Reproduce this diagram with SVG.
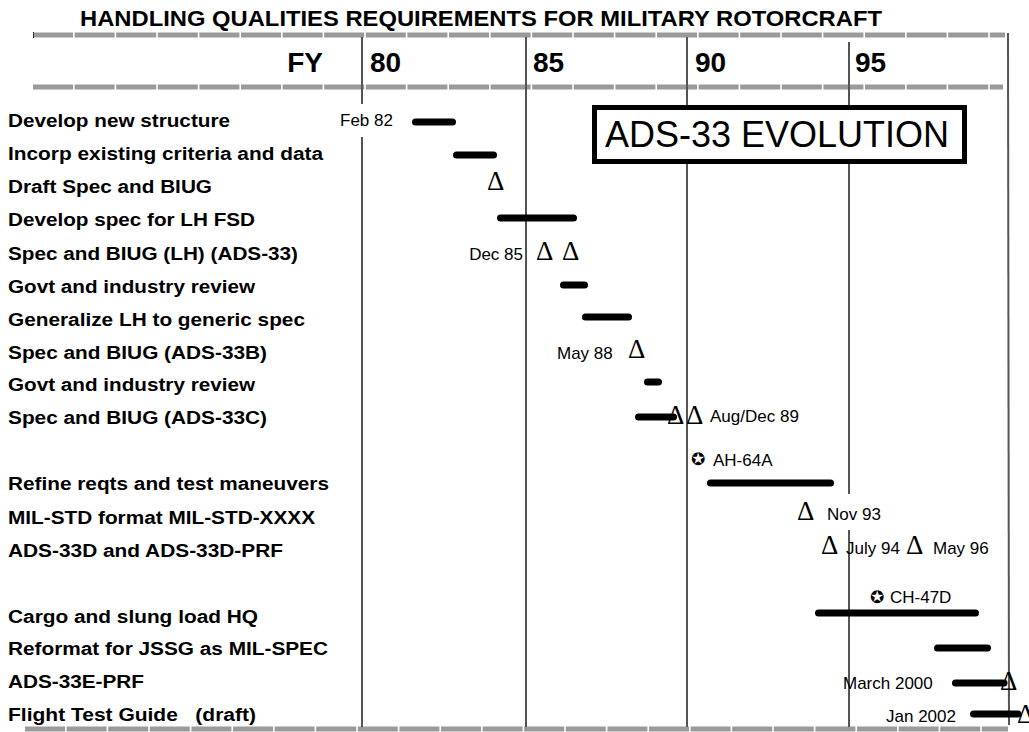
<svg xmlns="http://www.w3.org/2000/svg" width="1029" height="732" viewBox="0 0 1029 732">
<style>
.title{font-family:"Liberation Sans",Arial,sans-serif;font-weight:bold;font-size:22px;fill:#000}
.hdr{font-family:"Liberation Sans",Arial,sans-serif;font-weight:bold;font-size:28px;fill:#000}
.lbl{font-family:"Liberation Sans",Arial,sans-serif;font-weight:bold;font-size:18px;fill:#000}
.note{font-family:"Liberation Sans",Arial,sans-serif;font-size:17px;fill:#000}
.tri{font-family:"Liberation Serif","Times New Roman",serif;font-size:27px;fill:#000}
.ico{font-family:"DejaVu Sans",sans-serif;font-size:17px;fill:#000}
.band{stroke:#9a9a9a;stroke-width:5;stroke-dasharray:40 1.6;fill:none}
.vl{stroke:#555;stroke-width:2;fill:none}
.bar{stroke:#000;stroke-width:7;stroke-linecap:round;fill:none}
</style>
<rect width="1029" height="732" fill="#fff"/>
<text class="title" x="80" y="26" textLength="802" lengthAdjust="spacingAndGlyphs">HANDLING QUALITIES REQUIREMENTS FOR MILITARY ROTORCRAFT</text>
<g id="grid">
<line class="band" x1="33" y1="35" x2="1005" y2="35"/>
<line class="band" x1="33" y1="87" x2="1003" y2="87"/>
<line class="band" x1="25" y1="729" x2="1008" y2="729"/>
<line x1="33.5" y1="32" x2="33.5" y2="38" stroke="#333" stroke-width="1"/>
<line class="vl" x1="362" y1="37" x2="362" y2="727"/>
<line class="vl" x1="526" y1="37" x2="526" y2="727"/>
<line class="vl" x1="687" y1="37" x2="687" y2="727"/>
<line class="vl" x1="849" y1="42" x2="849" y2="727"/>
<line class="vl" x1="1008" y1="33" x2="1009" y2="725"/>
</g>
<g id="header">
<text class="hdr" x="323" y="72" text-anchor="end">FY</text>
<text class="hdr" x="370" y="72">80</text>
<text class="hdr" x="533" y="72">85</text>
<text class="hdr" x="695" y="72">90</text>
<text class="hdr" x="855" y="72">95</text>
</g>
<g id="labels">
<text class="lbl" x="8" y="127" textLength="222" lengthAdjust="spacingAndGlyphs">Develop new structure</text>
<text class="lbl" x="8" y="160" textLength="315" lengthAdjust="spacingAndGlyphs">Incorp existing criteria and data</text>
<text class="lbl" x="8" y="193" textLength="204" lengthAdjust="spacingAndGlyphs">Draft Spec and BIUG</text>
<text class="lbl" x="8" y="226" textLength="247" lengthAdjust="spacingAndGlyphs">Develop spec for LH FSD</text>
<text class="lbl" x="8" y="260" textLength="290" lengthAdjust="spacingAndGlyphs">Spec and BIUG (LH) (ADS-33)</text>
<text class="lbl" x="8" y="293" textLength="247" lengthAdjust="spacingAndGlyphs">Govt and industry review</text>
<text class="lbl" x="8" y="326" textLength="297" lengthAdjust="spacingAndGlyphs">Generalize LH to generic spec</text>
<text class="lbl" x="8" y="359" textLength="259" lengthAdjust="spacingAndGlyphs">Spec and BIUG (ADS-33B)</text>
<text class="lbl" x="8" y="391" textLength="247" lengthAdjust="spacingAndGlyphs">Govt and industry review</text>
<text class="lbl" x="8" y="424" textLength="259" lengthAdjust="spacingAndGlyphs">Spec and BIUG (ADS-33C)</text>
<text class="lbl" x="8" y="490" textLength="321" lengthAdjust="spacingAndGlyphs">Refine reqts and test maneuvers</text>
<text class="lbl" x="8" y="524" textLength="307" lengthAdjust="spacingAndGlyphs">MIL-STD format MIL-STD-XXXX</text>
<text class="lbl" x="8" y="557" textLength="275" lengthAdjust="spacingAndGlyphs">ADS-33D and ADS-33D-PRF</text>
<text class="lbl" x="8" y="623" textLength="250" lengthAdjust="spacingAndGlyphs">Cargo and slung load HQ</text>
<text class="lbl" x="8" y="655" textLength="320" lengthAdjust="spacingAndGlyphs">Reformat for JSSG as MIL-SPEC</text>
<text class="lbl" x="8" y="688" textLength="136" lengthAdjust="spacingAndGlyphs">ADS-33E-PRF</text>
<text class="lbl" x="8" y="721" textLength="248" lengthAdjust="spacingAndGlyphs" xml:space="preserve" style="white-space:pre">Flight Test Guide   (draft)</text>
</g>
<g id="evolution-box">
<rect x="594.5" y="107.5" width="370" height="54" fill="#fff" stroke="#000" stroke-width="5"/>
<text x="777" y="147" text-anchor="middle" font-family="Liberation Sans, Arial, sans-serif" font-size="36">ADS-33 EVOLUTION</text>
</g>
<g id="connectors">
<line class="bar" x1="415.5" y1="122" x2="452.5" y2="122"/>
<line class="bar" x1="456.5" y1="155" x2="493.5" y2="155"/>
<line class="bar" x1="500.5" y1="218" x2="573.5" y2="218"/>
<line class="bar" x1="563.5" y1="285" x2="584.5" y2="285"/>
<line class="bar" x1="585.5" y1="317" x2="628.5" y2="317"/>
<line class="bar" x1="647.5" y1="382" x2="658.5" y2="382"/>
<line class="bar" x1="710.5" y1="483" x2="830.5" y2="483"/>
<line class="bar" x1="818.5" y1="613" x2="975.5" y2="613"/>
<line class="bar" x1="937.5" y1="648" x2="987.5" y2="648"/>
</g>
<g id="milestones">
<rect x="338" y="104" width="60" height="33" fill="#fff"/>
<text class="note" x="340" y="126">Feb 82</text>
<text class="tri" x="487" y="190">Δ</text>
<text class="note" x="523" y="260" text-anchor="end">Dec 85</text>
<text class="tri" x="536" y="260">Δ</text>
<text class="tri" x="562" y="260">Δ</text>
<text class="note" x="557" y="359">May 88</text>
<text class="tri" x="628" y="358">Δ</text>
<text class="tri" x="667" y="424">Δ</text>
<line class="bar" x1="638.5" y1="417" x2="673.5" y2="417"/>
<text class="tri" x="686" y="424">Δ</text>
<text class="note" x="710" y="422">Aug/Dec 89</text>
<text class="ico" x="691" y="465">✪</text>
<text class="note" x="713" y="466">AH-64A</text>
<rect x="824" y="494" width="64" height="36" fill="#fff"/>
<text class="tri" x="797" y="520">Δ</text>
<text class="note" x="827" y="520">Nov 93</text>
<text class="tri" x="821" y="554">Δ</text>
<text class="note" x="846" y="554">July 94</text>
<text class="tri" x="906" y="554">Δ</text>
<text class="note" x="933" y="554">May 96</text>
<text class="ico" x="870" y="603">✪</text>
<text class="note" x="890" y="603">CH-47D</text>
<text class="note" x="843" y="689">March 2000</text>
<text class="tri" x="1000" y="690">Δ</text>
<line class="bar" x1="955.5" y1="683" x2="1004" y2="683"/>
<text class="note" x="886" y="722">Jan 2002</text>
<text class="tri" x="1017" y="723">Δ</text>
<line class="bar" x1="973.5" y1="714" x2="1018" y2="714"/>
</g>
</svg>
